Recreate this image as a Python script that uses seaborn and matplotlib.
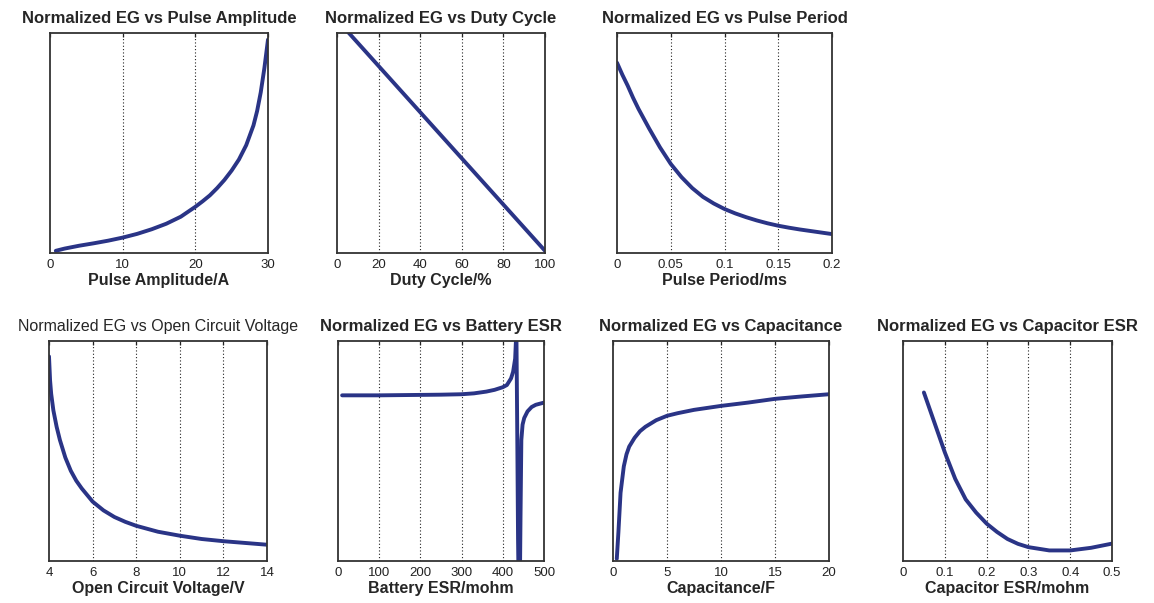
import numpy as np
import pandas as pd
import matplotlib
matplotlib.use("Agg")
import matplotlib.pyplot as plt
import seaborn as sns

sns.set_style("white")
plt.rcParams['font.family'] = ['Liberation Sans', 'DejaVu Sans']

# Values (y normalised, axis 0..1)
amp_x = [0.8, 2, 4, 6, 8, 10, 12, 14, 16, 18, 20, 21, 22, 23, 24, 25, 26, 27, 28, 28.5, 29, 29.5, 30]
amp_y = [0.01, 0.02, 0.033, 0.044, 0.056, 0.07, 0.087, 0.108, 0.133, 0.165, 0.21, 0.235, 0.262, 0.295, 0.332, 0.375, 0.425, 0.49, 0.58, 0.645, 0.73, 0.84, 0.97]

duty_x = [0, 10, 20, 30, 40, 50, 60, 70, 80, 90, 100]
duty_y = [1.06, 0.955, 0.85, 0.745, 0.64, 0.535, 0.43, 0.325, 0.22, 0.115, 0.01]

period_x = [0.0, 0.005, 0.01, 0.015, 0.02, 0.03, 0.04, 0.05, 0.06, 0.07, 0.08, 0.09, 0.1, 0.11, 0.12, 0.13, 0.14, 0.15, 0.16, 0.17, 0.18, 0.19, 0.2]
period_y = [0.865, 0.81, 0.76, 0.705, 0.655, 0.565, 0.48, 0.405, 0.345, 0.295, 0.255, 0.225, 0.20, 0.18, 0.163, 0.148, 0.135, 0.124, 0.115, 0.107, 0.10, 0.093, 0.086]

ocv_x = [4.0, 4.05, 4.1, 4.2, 4.35, 4.5, 4.75, 5, 5.25, 5.5, 6, 6.5, 7, 7.5, 8, 9, 10, 11, 12, 13, 14]
ocv_y = [0.93, 0.82, 0.76, 0.685, 0.61, 0.55, 0.47, 0.41, 0.365, 0.33, 0.27, 0.23, 0.20, 0.178, 0.16, 0.133, 0.115, 0.10, 0.09, 0.082, 0.074]

besr_x = [10, 50, 100, 150, 200, 250, 300, 330, 360, 380, 400, 410, 420, 425, 430, 433, 435, 437, 439, 441, 443, 445, 448, 452, 460, 470, 480, 490, 500]
besr_y = [0.753, 0.753, 0.753, 0.754, 0.755, 0.756, 0.758, 0.762, 0.77, 0.778, 0.79, 0.80, 0.83, 0.86, 0.92, 1.05, 0.6, 0.1, -0.2, -0.2, 0.2, 0.55, 0.62, 0.65, 0.68, 0.70, 0.71, 0.715, 0.72]

cap_x = [0.35, 0.5, 0.7, 1.0, 1.25, 1.5, 2, 2.5, 3, 4, 5, 6, 7.5, 10, 12.5, 15, 17.5, 20]
cap_y = [0.01, 0.13, 0.31, 0.43, 0.485, 0.52, 0.56, 0.59, 0.61, 0.64, 0.66, 0.672, 0.687, 0.705, 0.72, 0.737, 0.748, 0.758]

cesr_x = [0.05, 0.075, 0.1, 0.125, 0.15, 0.175, 0.2, 0.225, 0.25, 0.275, 0.3, 0.35, 0.4, 0.45, 0.5]
cesr_y = [0.766, 0.63, 0.494, 0.373, 0.28, 0.22, 0.17, 0.132, 0.10, 0.078, 0.063, 0.048, 0.048, 0.06, 0.079]

panels = [
    ("Normalized EG vs Pulse Amplitude", "Pulse Amplitude/A", amp_x, amp_y,
     (0, 30), [0, 10, 20, 30], ["0", "10", "20", "30"], True),
    ("Normalized EG vs Duty Cycle", "Duty Cycle/%", duty_x, duty_y,
     (0, 100), [0, 20, 40, 60, 80, 100], ["0", "20", "40", "60", "80", "100"], True),
    ("Normalized EG vs Pulse Period", "Pulse Period/ms", period_x, period_y,
     (0, 0.2), [0, 0.05, 0.1, 0.15, 0.2], ["0", "0.05", "0.1", "0.15", "0.2"], True),
    ("Normalized EG vs Open Circuit Voltage", "Open Circuit Voltage/V", ocv_x, ocv_y,
     (4, 14), [4, 6, 8, 10, 12, 14], ["4", "6", "8", "10", "12", "14"], False),
    ("Normalized EG vs Battery ESR", "Battery ESR/mohm", besr_x, besr_y,
     (0, 500), [0, 100, 200, 300, 400, 500], ["0", "100", "200", "300", "400", "500"], True),
    ("Normalized EG vs Capacitance", "Capacitance/F", cap_x, cap_y,
     (0, 20), [0, 5, 10, 15, 20], ["0", "5", "10", "15", "20"], True),
    ("Normalized EG vs Capacitor ESR", "Capacitor ESR/mohm", cesr_x, cesr_y,
     (0, 0.5), [0, 0.1, 0.2, 0.3, 0.4, 0.5], ["0", "0.1", "0.2", "0.3", "0.4", "0.5"], True),
]

W, H = 1154, 603
boxes = [(50, 268, 33, 253), (337, 545, 33, 253), (617, 832, 33, 253),
         (49, 267, 341, 561), (338, 544, 341, 561), (613, 829, 341, 561), (903, 1112, 341, 561)]

line_color = "#2a3486"
fig = plt.figure(figsize=(W / 100, H / 100), dpi=100)

for (title, xlabel, xs, ys, xlim, ticks, labels, bold), (l, r, t, b) in zip(panels, boxes):
    ax = fig.add_axes([l / W, (H - b) / H, (r - l) / W, (b - t) / H])
    df = pd.DataFrame({"x": xs, "y": ys})
    sns.lineplot(data=df, x="x", y="y", ax=ax, color=line_color, linewidth=2.8, sort=False)
    ax.set_xlim(*xlim)
    ax.set_ylim(0, 1)
    ax.set_yticks([])
    ax.set_xticks(ticks)
    ax.set_xticklabels(labels, fontsize=9.5)
    for tk in ticks[1:-1]:
        ax.axvline(tk, color="#222222", linestyle=(0, (1, 2)), linewidth=0.8, zorder=0)
    ax.tick_params(axis="x", direction="in", length=3, width=0.9, top=True,
                   pad=4, colors="#222222")
    for s in ax.spines.values():
        s.set_color("#333333")
        s.set_linewidth(1.3)
    ax.set_ylabel("")
    ax.set_xlabel(xlabel, fontsize=11.5, fontweight="bold", labelpad=2)
    if bold:
        ax.set_title(title, fontsize=12, fontweight="bold", pad=7)
    else:
        ax.set_title(title, fontsize=11.5, pad=7)

fig.savefig("out.png", dpi=100)
